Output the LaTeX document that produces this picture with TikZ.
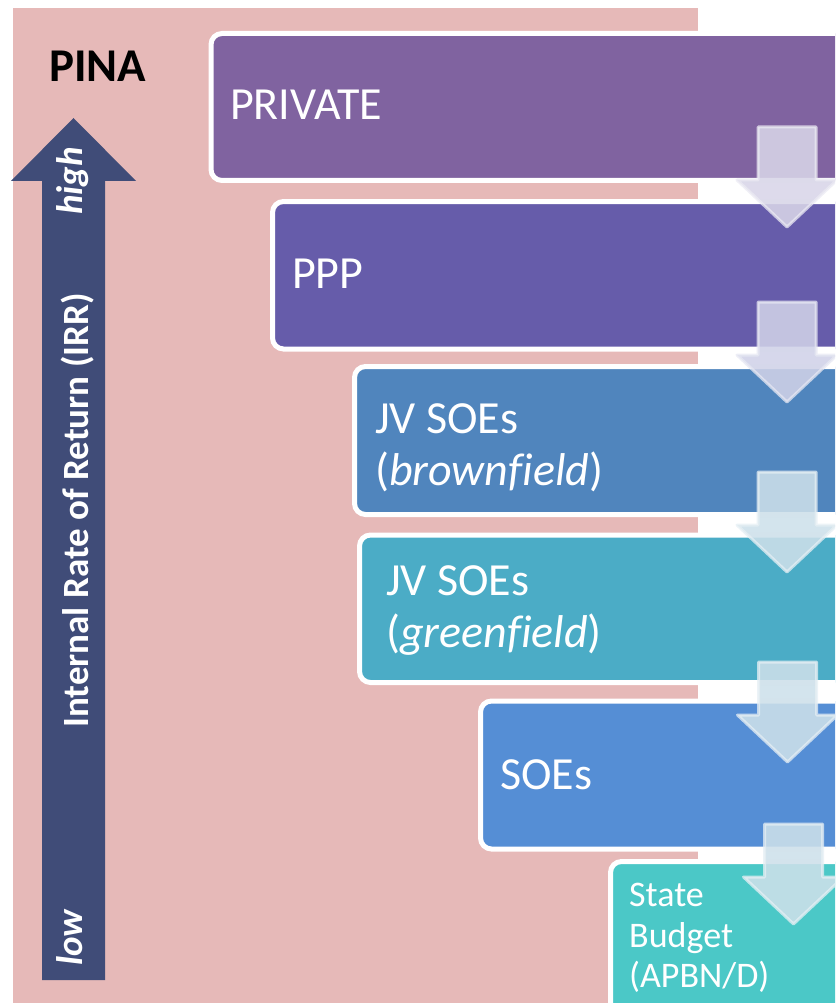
\documentclass[tikz,border=0pt]{standalone}
\usepackage{fontspec}
\setmainfont{Carlito}[Ligatures=NoCommon]
\definecolor{pinkbg}{RGB}{230,185,184}
\definecolor{navy}{RGB}{64,76,120}
\definecolor{tierA}{RGB}{128,99,160}
\definecolor{tierB}{RGB}{102,92,170}
\definecolor{tierC}{RGB}{80,133,189}
\definecolor{tierD}{RGB}{75,172,198}
\definecolor{tierE}{RGB}{85,142,213}
\definecolor{tierF}{RGB}{75,200,199}
\definecolor{flowA}{RGB}{216,213,232}
\definecolor{flowB}{RGB}{208,210,232}
\definecolor{flowC}{RGB}{205,224,234}
\begin{document}
\begin{tikzpicture}[x=1pt,y=-1pt,
  tier/.style={draw=white, line width=5pt, rounded corners=11pt},
  lbl/.style={text=white, inner sep=0pt, anchor=base west, font=\fontsize{46}{55}\selectfont},
  small/.style={text=white, inner sep=0pt, anchor=base west, font=\fontsize{36}{41}\selectfont},
  axis/.style={text=white, inner sep=0pt, rotate=90, font=\bfseries\fontsize{37}{44}\selectfont},
  flow/.style={fill=#1, fill opacity=0.88, draw=#1!50!white, draw opacity=0.75, line width=3pt, line join=round},
]
\useasboundingbox (0,0) rectangle (835,1003);
\clip (0,0) rectangle (835,1003);

% background panel
\fill[pinkbg] (13,8) rectangle (698,1010);

% funding tiers
\draw[tier, fill=tierA] (211,33.5) rectangle (900,180.5);
\draw[tier, fill=tierB] (272.5,201.5) rectangle (900,349);
\draw[tier, fill=tierC] (354.5,366.5) rectangle (900,514.5);
\draw[tier, fill=tierD] (359.5,535) rectangle (900,682.5);
\draw[tier, fill=tierE] (480.5,701) rectangle (900,849);
\draw[tier, fill=tierF] (610.5,861.5) rectangle (900,1040);

% tier labels
\node[lbl] (private) at (230,120) {PRIVATE};
\node[lbl] (ppp) at (292,288) {PPP};
\node[lbl] (jvb1) at (375,433) {JV SOEs};
\node[lbl] (jvb2) at (375,485) {(\textit{brownfield})};
\node[lbl] (jvg1) at (386,595) {JV SOEs};
\node[lbl] (jvg2) at (386,647) {(\textit{greenfield})};
\node[lbl] (soes) at (500,789) {SOEs};
\node[small] (sb1) at (629,906) {State};
\node[small] (sb2) at (629,947) {Budget};
\node[small] (sb3) at (629,987) {(APBN/D)};

% down arrows between tiers
\foreach \cx/\ty/\col in {787/127/flowA, 787/302/flowB, 787/472/flowC, 787.5/662/flowC, 793.5/824/flowC} {
  \draw[flow=\col] (\cx-29,\ty) -- (\cx+29,\ty) -- (\cx+29,\ty+53) -- (\cx+50,\ty+53)
    -- (\cx,\ty+100) -- (\cx-50,\ty+53) -- (\cx-29,\ty+53) -- cycle;
}

% IRR axis
\fill[navy] (42,980) -- (105,980) -- (105,181) -- (136,181) -- (73.5,118)
  -- (11,181) -- (42,181) -- cycle;
\node[axis, anchor=base] (irr) at (88,510.5) {Internal Rate of Return (IRR)};
\node[axis, anchor=base, font=\bfseries\itshape\fontsize{37}{44}\selectfont] (high) at (82,181) {high};
\node[axis, anchor=base west, font=\bfseries\itshape\fontsize{37}{44}\selectfont] (low) at (82,966) {low};

% title
\node[inner sep=0pt, anchor=base west, font=\bfseries\fontsize{47}{56}\selectfont] (pina) at (49,82) {PINA};
\end{tikzpicture}
\end{document}
